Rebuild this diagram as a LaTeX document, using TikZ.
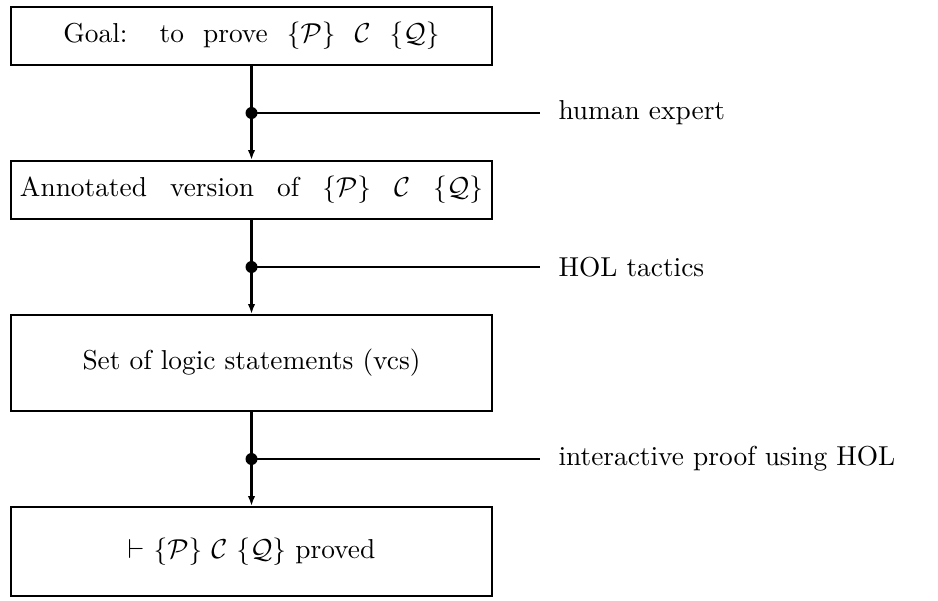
\documentclass[tikz,border=0pt]{standalone}
\usetikzlibrary{arrows.meta}
\begin{document}
\begin{tikzpicture}[x=0.4pt, y=-0.4pt,
  font=\fontsize{10.95}{13}\selectfont,
  stagebox/.style={draw, line width=0.8pt, minimum width=192.4pt, inner sep=0pt},
  flowline/.style={line width=1.2pt, -{Latex[length=4pt,width=3pt]}},
  branch/.style={line width=0.8pt},
  junction/.style={circle, fill, inner sep=0pt, minimum size=4.8pt},
  steplabel/.style={anchor=west, inner xsep=7.2pt, inner ysep=0pt}]
  \useasboundingbox (0,0) rectangle (938,600);

  % proof stages
  \node[stagebox, minimum height=23.2pt] (goal) at (251.5,36)
    {\makebox[150.4pt][s]{Goal: to prove $\{\mathcal{P}\}$ $\mathcal{C}$ $\{\mathcal{Q}\}$}};
  \node[stagebox, minimum height=23.2pt] (annot) at (251.5,190)
    {\makebox[185.2pt][s]{Annotated version of $\{\mathcal{P}\}$ $\mathcal{C}$ $\{\mathcal{Q}\}$}};
  \node[stagebox, minimum height=38.4pt] (vcs) at (251.5,363)
    {Set of logic statements (vcs)};
  \node[stagebox, minimum height=35.6pt] (done) at (251.5,551.5)
    {$\vdash$ $\{\mathcal{P}\}$ $\mathcal{C}$ $\{\mathcal{Q}\}$ proved};

  % junction points on the flow
  \node[junction] (j1) at (251.5,113) {};
  \node[junction] (j2) at (251.5,267) {};
  \node[junction] (j3) at (251.5,459) {};

  % labels of the agents performing each step
  \node[steplabel] (l1) at (540,113) {human expert};
  \node[steplabel] (l2) at (540,267) {HOL tactics};
  \node[steplabel] (l3) at (540,459) {interactive proof using HOL};

  % flow between stages
  \draw[flowline] (goal.south) -- (annot.north);
  \draw[flowline] (annot.south) -- (vcs.north);
  \draw[flowline] (vcs.south) -- (done.north);

  % branches to the labels
  \draw[branch] (j1.center) -- (l1.west);
  \draw[branch] (j2.center) -- (l2.west);
  \draw[branch] (j3.center) -- (l3.west);
\end{tikzpicture}
\end{document}
